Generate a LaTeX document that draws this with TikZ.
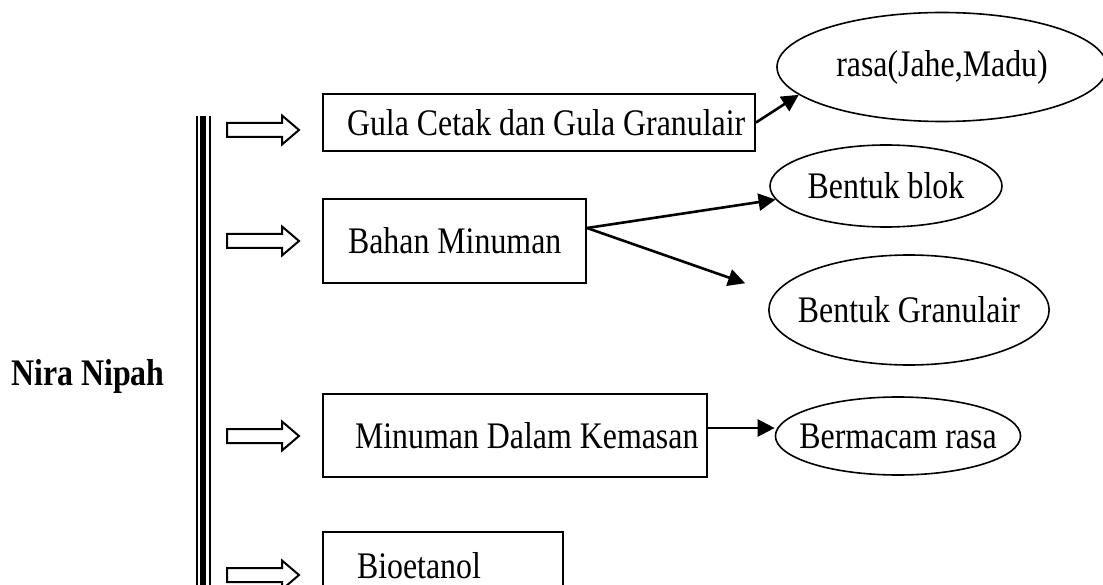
\documentclass[tikz,border=0pt]{standalone}
\usepackage{fontspec}
\setmainfont[FakeStretch=0.85]{Liberation Serif}
\usetikzlibrary{shapes.geometric, arrows.meta}
\tikzstyle{produk} = [rectangle, draw=black, line width=2pt, inner xsep=0pt, align=flush left]
\tikzstyle{varian} = [ellipse, draw=black, line width=1.6pt, inner xsep=-12pt, inner ysep=0pt]
\tikzstyle{blok} = [draw=black, line width=2pt, line join=miter]
\tikzstyle{arrow} = [line width=2.6pt, -{Triangle[length=17pt,width=17pt]}]

\begin{document}
\begin{tikzpicture}[x=1pt, y=-1pt, font=\fontsize{37.5}{44}\selectfont]
        \useasboundingbox (0,0) rectangle (1103,585);
        \node (nira) at (88,376) {\textbf{Nira Nipah}};
        \draw [line width=2.4pt] (197,116) -- (197,590);
        \draw [line width=6pt] (203,116) -- (203,590);
        \draw [line width=2.2pt] (209.7,116) -- (209.7,590);
        \foreach \y in {130,241,436,575}
          \draw [blok] (227,\y-7) -- (282,\y-7) -- (282,\y-14.5) -- (299,\y) -- (282,\y+14.5) -- (282,\y+7) -- (227,\y+7) -- cycle;
        \node (pro1) [produk, text width=432pt, minimum height=57pt] at (539,122.5) {\hspace*{24pt}Gula Cetak dan Gula Granulair};
        \node (pro2) [produk, text width=263pt, minimum height=84pt] at (454.5,241) {\hspace*{25pt}Bahan Minuman};
        \node (pro3) [produk, text width=384pt, minimum height=83pt] at (515,435.5) {\hspace*{32pt}Minuman Dalam Kemasan};
        \node (pro4) [produk, text width=240pt, minimum height=68pt] at (443,566) {\hspace*{34pt}Bioetanol};
        \node (var1) [varian, minimum width=330pt, minimum height=109pt] at (942,67) {rasa(Jahe,Madu)};
        \node (var2) [varian, minimum width=232pt, minimum height=82pt] at (886,186) {Bentuk blok};
        \node (var3) [varian, minimum width=278pt, minimum height=110pt] at (909,310) {Bentuk Granulair};
        \node (var4) [varian, minimum width=238pt, minimum height=78pt] at (898,436) {Bermacam rasa};
        \draw [arrow] (pro1.east) -- (var1.191);
        \draw [arrow] ([yshift=13pt]pro2.east) -- (var2.187);
        \draw [arrow, shorten >=31pt] ([yshift=13pt]pro2.east) -- (var3.173);
        \draw [arrow] ([yshift=7.5pt]pro3.east) -- ([yshift=8pt]var4.west);
\end{tikzpicture}
\end{document}
